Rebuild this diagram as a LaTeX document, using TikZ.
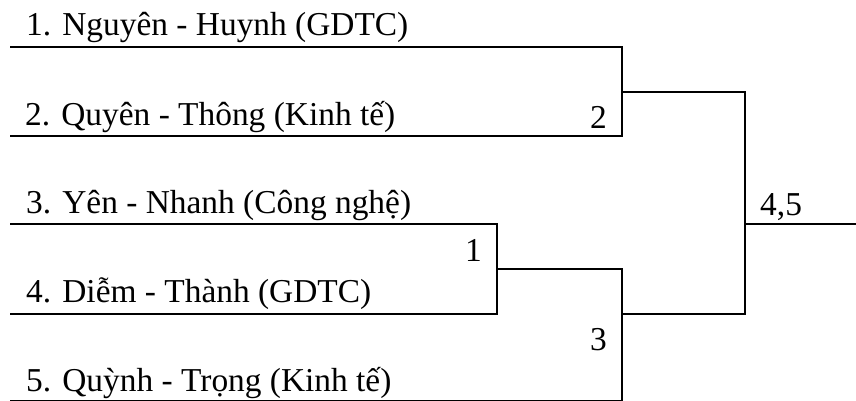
\documentclass[tikz,border=0pt]{standalone}
\usepackage{fontspec}
\setmainfont{Liberation Serif}
\tikzset{
  bracket/.style={line width=1.4pt, line join=miter},
  team/.style={anchor=base west, inner sep=0pt, font=\fontsize{33.4}{40}\selectfont},
  score/.style={inner sep=0pt, font=\fontsize{33.4}{40}\selectfont},
}
\begin{document}
\begin{tikzpicture}[x=1pt, y=-1pt]
\useasboundingbox (0,0) rectangle (856,400);

% team names
\node[team] (p1) at (26,35)  {1. Nguyên - Huynh (GDTC)};
\node[team] (p2) at (25,125) {2. Quyên - Thông (Kinh tế)};
\node[team] (p3) at (26,213) {3. Yên - Nhanh (Công nghệ)};
\node[team] (p4) at (26,302) {4. Diễm - Thành (GDTC)};
\node[team] (p5) at (26,391) {5. Quỳnh - Trọng (Kinh tế)};

% line ends
\coordinate (a1) at (10,47);   \coordinate (b1) at (622,47);
\coordinate (a2) at (10,136);  \coordinate (b2) at (622,136);
\coordinate (a3) at (10,224);  \coordinate (b3) at (497,224);
\coordinate (a4) at (10,314);  \coordinate (b4) at (497,314);
\coordinate (a5) at (10,401);  \coordinate (b5) at (622,401);
\coordinate (w12) at (622,92);
\coordinate (w34) at (497,269);
\coordinate (s3)  at (622,269);
\coordinate (s3b) at (622,314);
\coordinate (f1)  at (745,92);
\coordinate (f2)  at (745,314);
\coordinate (fw)  at (745,224);
\coordinate (end) at (856,224);

% brackets
\draw[bracket] (a1) -- (b1) -- (b2) -- (a2);
\draw[bracket] (a3) -- (b3) -- (b4) -- (a4);
\draw[bracket] (w34) -- (s3) -- (b5) -- (a5);
\draw[bracket] (w12) -- (f1) -- (f2) -- (s3b);
\draw[bracket] (fw) -- (end);

% match numbers
\node[score, anchor=base east] (m2) at (607,128) {2};
\node[score, anchor=base east] (m1) at (482,261) {1};
\node[score, anchor=base east] (m3) at (607,350) {3};
\node[score, anchor=base west] (m45) at (760,215) {4,5};
\end{tikzpicture}
\end{document}
